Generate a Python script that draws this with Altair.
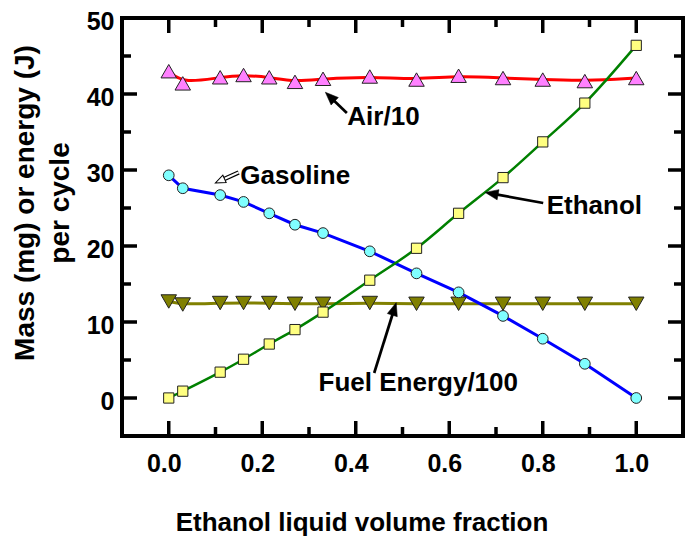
import math
import altair as alt
import pandas as pd

# ---------------- data ----------------
fraction = [0.0, 0.03, 0.11, 0.16, 0.215, 0.27, 0.33, 0.43, 0.53, 0.62, 0.715, 0.80, 0.89, 1.0]
gasoline = [29.3, 27.6, 26.7, 25.8, 24.3, 22.8, 21.7, 19.3, 16.4, 13.9, 10.8, 7.8, 4.5, 0.0]
ethanol = [0.0, 0.9, 3.4, 5.1, 7.1, 9.0, 11.3, 15.5, 19.7, 24.3, 29.0, 33.7, 38.8, 46.4]
air_10 = [43.0, 41.4, 42.2, 42.5, 42.2, 41.6, 42.0, 42.3, 41.9, 42.4, 42.1, 41.9, 41.7, 42.1]
energy_100 = [12.7, 12.3, 12.5, 12.5, 12.5, 12.4, 12.4, 12.5, 12.4, 12.4, 12.4, 12.4, 12.4, 12.4]

x_major = [0.0, 0.2, 0.4, 0.6, 0.8, 1.0]
x_minor = [0.1, 0.3, 0.5, 0.7, 0.9]
y_major = [0, 10, 20, 30, 40, 50]
y_minor = [5, 15, 25, 35, 45]

ann_labels = ["Air/10", "Gasoline", "Ethanol", "Fuel Energy/100"]
ann_x = [0.382, 0.153, 0.8085, 0.3205]
ann_y = [37.0, 29.2, 25.3, 2.0]
tail_x = [0.381, 0.1496, 0.801, 0.4395]
tail_y = [37.5, 29.68, 25.66, 3.29]
tip_x = [0.335, 0.0998, 0.677, 0.4865]
tip_y = [40.23, 28.29, 27.05, 12.54]
hollow = [False, True, False, False]

y_title = ["Mass (mg) or energy (J)", "per cycle"]
x_title = "Ethanol liquid volume fraction"

# ---------------- layout ----------------
W, H = 561, 418
XDOM = [-0.1, 1.1]
YDOM = [-5, 50]
KX = W / (XDOM[1] - XDOM[0])
KY = H / (YDOM[1] - YDOM[0])
FONT = "Liberation Sans"
MAJ, MIN = 15, 9

xs = alt.Scale(domain=XDOM, nice=False, zero=False)
ys = alt.Scale(domain=YDOM, nice=False, zero=False)

x_axis = alt.Axis(values=x_major, format=".1f", title=None, ticks=False, tickSize=0,
                  domain=False, grid=False, labelFontSize=25, labelFont=FONT,
                  labelFontWeight="bold", labelColor="black", labelPadding=35,
                  labelBaseline="alphabetic", labelOffset=-5)
y_axis = alt.Axis(values=y_major, format="d", title=None, ticks=False, tickSize=0,
                  domain=False, grid=False, labelFontSize=25, labelFont=FONT,
                  labelFontWeight="bold", labelColor="black", labelPadding=8,
                  labelBaseline="middle", labelOffset=3)


def X(field):
    return alt.X(field, type="quantitative", scale=xs, axis=x_axis)


def Y(field):
    return alt.Y(field, type="quantitative", scale=ys, axis=y_axis)


df = pd.DataFrame({"fraction": fraction, "gasoline": gasoline, "ethanol": ethanol,
                   "air": air_10, "energy": energy_100})

layers = []
base = alt.Chart(df)
# axis carrier layer
layers.append(base.mark_point(opacity=0).encode(x=X("fraction"), y=Y("gasoline")))

# tick marks (inward, all four sides)
for vals, ln in ((x_major, MAJ), (x_minor, MIN)):
    d = pd.DataFrame({"v": vals})
    layers.append(alt.Chart(d).mark_rule(color="black", strokeWidth=3.5).encode(
        x=X("v"), y=alt.value(H), y2=alt.value(H - ln)))
    layers.append(alt.Chart(d).mark_rule(color="black", strokeWidth=3.5).encode(
        x=X("v"), y=alt.value(0), y2=alt.value(ln)))
for vals, ln in ((y_major, MAJ), (y_minor, MIN)):
    d = pd.DataFrame({"v": vals})
    layers.append(alt.Chart(d).mark_rule(color="black", strokeWidth=3.5).encode(
        y=Y("v"), x=alt.value(0), x2=alt.value(ln)))
    layers.append(alt.Chart(d).mark_rule(color="black", strokeWidth=3.5).encode(
        y=Y("v"), x=alt.value(W), x2=alt.value(W - ln)))

series = [
    ("energy", "#808000", "basis", "triangle-down", "#808000", 240, 3),
    ("air", "#FF0000", "basis", "triangle-up", "#FF80FF", 240, 3),
    ("gasoline", "#0000FF", "linear", "circle", "#80FFFF", 115, 3),
    ("ethanol", "#008000", "monotone", "square", "#FFFF80", 105, 2.5),
]
for col, lc, interp, shape, fill, size, sw in series:
    layers.append(base.mark_line(color=lc, strokeWidth=sw, interpolate=interp).encode(
        x=X("fraction"), y=Y(col)))
for col, lc, interp, shape, fill, size, sw in series:
    layers.append(base.mark_point(shape=shape, filled=True, fill=fill, stroke="#222222",
                                  strokeWidth=1, size=size, opacity=1).encode(
        x=X("fraction"), y=Y(col)))

# arrows
HEAD = 13
rows = []
for i in range(len(ann_labels)):
    tx, ty, hx, hy = tail_x[i], tail_y[i], tip_x[i], tip_y[i]
    dx = (hx - tx) * KX
    dy = -(hy - ty) * KY
    L = math.hypot(dx, dy)
    hl = 10 if hollow[i] else HEAD
    ang = math.degrees(math.atan2(dx, -dy)) % 360
    f = (L - hl * 0.85) / L
    rows.append({"tx": tx, "ty": ty, "ex": tx + (hx - tx) * f, "ey": ty + (hy - ty) * f,
                 "hx": hx, "hy": hy, "ang": ang, "hollow": hollow[i]})
arr = pd.DataFrame(rows)
solid = arr[~arr["hollow"]]
hol = arr[arr["hollow"]]

head_path = "M0,0L-0.8,2L0.8,2Z"
layers.append(alt.Chart(solid).mark_rule(color="black", strokeWidth=2.7).encode(
    x=X("tx"), y=Y("ty"), x2="ex", y2="ey"))
layers.append(alt.Chart(solid).mark_point(shape=head_path, filled=True, fill="black",
                                          stroke="black", strokeWidth=0.5, size=HEAD ** 2,
                                          opacity=1).encode(
    x=X("hx"), y=Y("hy"), angle=alt.Angle("ang:Q", scale=None)))
layers.append(alt.Chart(hol).mark_rule(color="black", strokeWidth=4.5).encode(
    x=X("tx"), y=Y("ty"), x2="ex", y2="ey"))
layers.append(alt.Chart(hol).mark_rule(color="white", strokeWidth=2).encode(
    x=X("tx"), y=Y("ty"), x2="ex", y2="ey"))
layers.append(alt.Chart(hol).mark_point(shape=head_path, filled=True, fill="white",
                                        stroke="black", strokeWidth=1, size=100,
                                        opacity=1).encode(
    x=X("hx"), y=Y("hy"), angle=alt.Angle("ang:Q", scale=None)))

# annotation labels
ann = pd.DataFrame({"t": ann_labels, "x": ann_x, "y": ann_y})
layers.append(alt.Chart(ann).mark_text(font=FONT, fontSize=26, fontWeight="bold",
                                       color="black", align="left", baseline="middle").encode(
    x=X("x"), y=Y("y"), text="t:N"))

# axis titles
layers.append(alt.Chart(pd.DataFrame({"t": [y_title[0]]})).mark_text(
    font=FONT, fontSize=28, fontWeight="bold", color="black", angle=270,
    align="center", baseline="alphabetic").encode(
    x=alt.value(-88), y=alt.value(185), text="t:N"))
layers.append(alt.Chart(pd.DataFrame({"t": [y_title[1]]})).mark_text(
    font=FONT, fontSize=28, fontWeight="bold", color="black", angle=270,
    align="center", baseline="alphabetic").encode(
    x=alt.value(-53), y=alt.value(185), text="t:N"))
layers.append(alt.Chart(pd.DataFrame({"t": [x_title]})).mark_text(
    font=FONT, fontSize=26, fontWeight="bold", color="black",
    align="center", baseline="alphabetic").encode(
    x=alt.value(240), y=alt.value(513), text="t:N"))

chart = alt.layer(*layers).properties(
    width=W, height=H,
    autosize=alt.AutoSizeParams(type="none"),
    padding={"left": 114, "top": 10, "right": 2, "bottom": 101},
).configure_view(stroke="black", strokeWidth=4).configure_axis(grid=False)

chart.save("out.html", embed_options={"renderer": "svg", "actions": False})
